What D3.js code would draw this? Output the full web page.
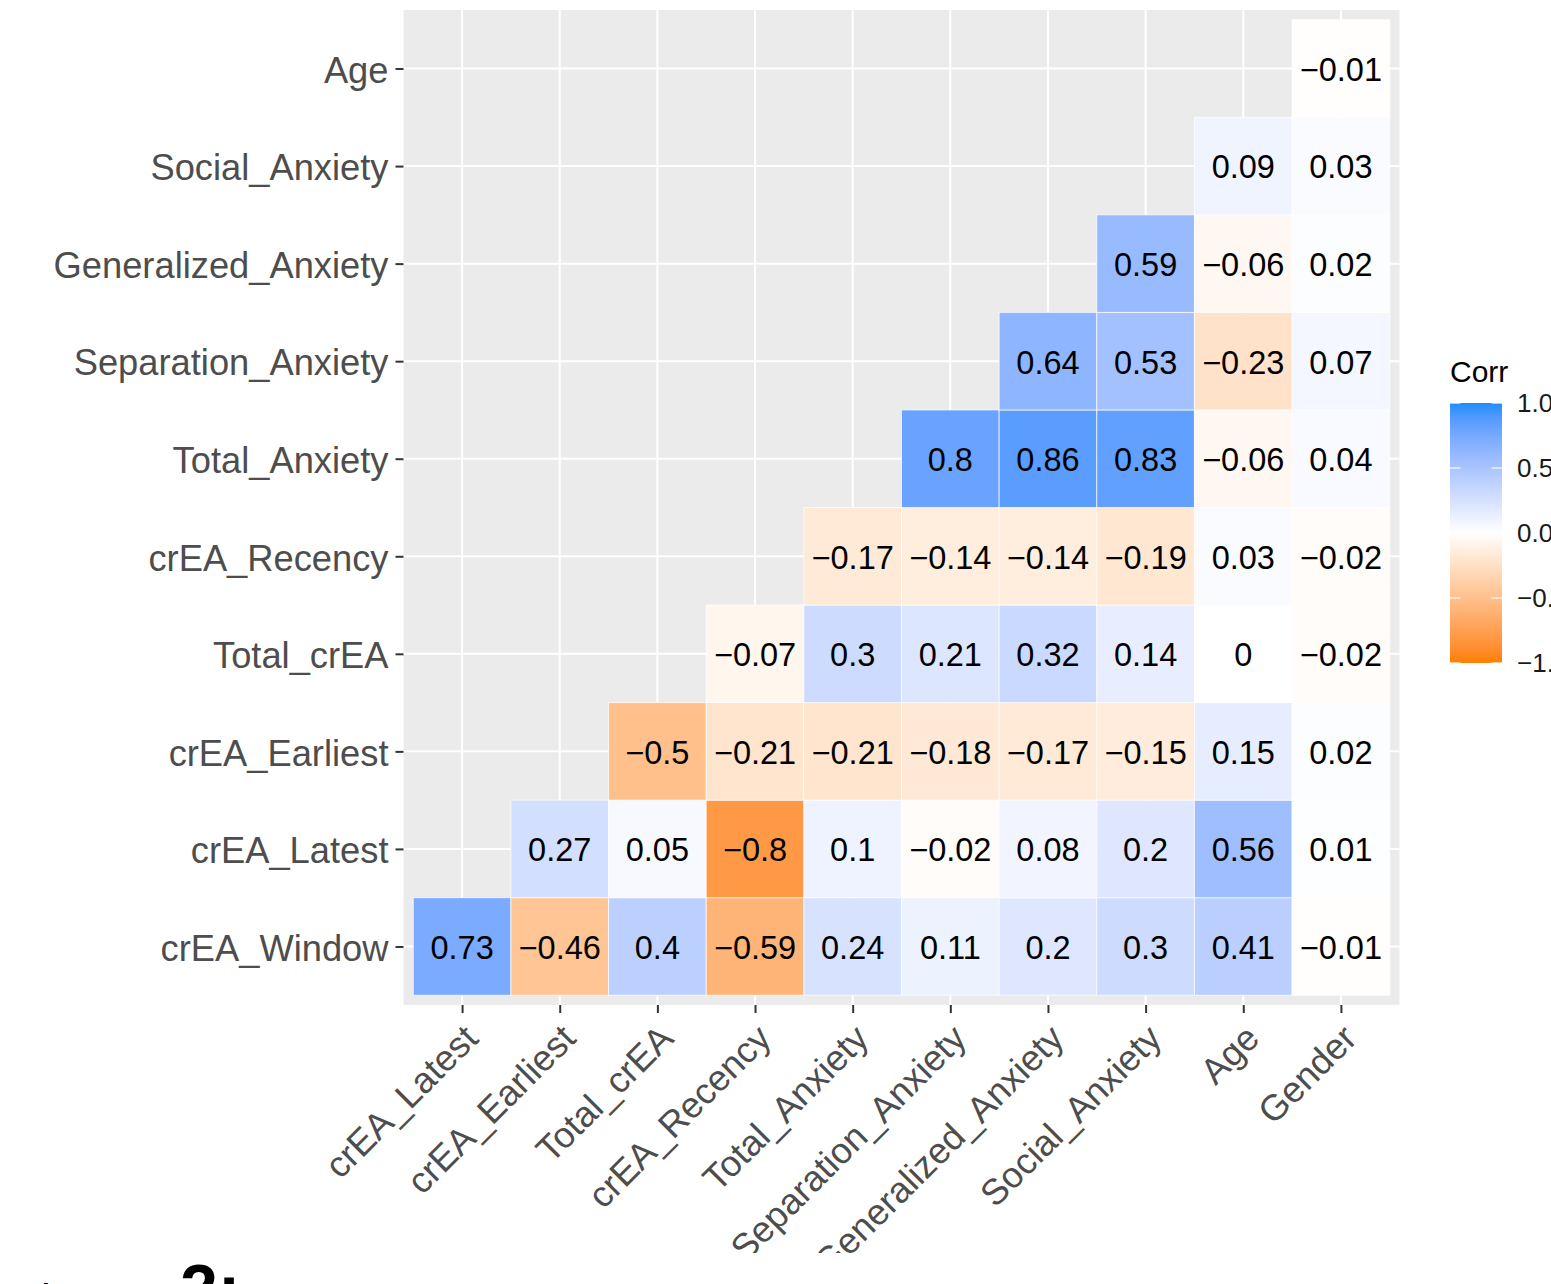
<!DOCTYPE html>
<html>
<head>
<meta charset="utf-8">
<script src="https://cdn.jsdelivr.net/npm/d3@7"></script>
<style>
  html, body { margin: 0; padding: 0; background: #fff; }
  svg { display: block; font-family: "Liberation Sans", Arial, Helvetica, sans-serif; }
</style>
</head>
<body>
<svg id="chart" width="1551" height="1284"></svg>
<script>
// Variables along the x axis (left to right) and y axis (bottom to top)
const xVars = ["crEA_Latest", "crEA_Earliest", "Total_crEA", "crEA_Recency", "Total_Anxiety",
  "Separation_Anxiety", "Generalized_Anxiety", "Social_Anxiety", "Age", "Gender"];
const yVars = ["crEA_Window", "crEA_Latest", "crEA_Earliest", "Total_crEA", "crEA_Recency",
  "Total_Anxiety", "Separation_Anxiety", "Generalized_Anxiety", "Social_Anxiety", "Age"];

// Lower-triangle correlations, one array per row (values start at the first x column)
const rowWindow    = [0.73, -0.46, 0.4, -0.59, 0.24, 0.11, 0.2, 0.3, 0.41, -0.01];
const rowLatest    = [0.27, 0.05, -0.8, 0.1, -0.02, 0.08, 0.2, 0.56, 0.01];
const rowEarliest  = [-0.5, -0.21, -0.21, -0.18, -0.17, -0.15, 0.15, 0.02];
const rowTotalCrEA = [-0.07, 0.3, 0.21, 0.32, 0.14, 0, -0.02];
const rowRecency   = [-0.17, -0.14, -0.14, -0.19, 0.03, -0.02];
const rowTotalAnx  = [0.8, 0.86, 0.83, -0.06, 0.04];
const rowSepAnx    = [0.64, 0.53, -0.23, 0.07];
const rowGenAnx    = [0.59, -0.06, 0.02];
const rowSocAnx    = [0.09, 0.03];
const rowAge       = [-0.01];

const legendTicks = [1, 0.5, 0, -0.5, -1];

const rows = [rowWindow, rowLatest, rowEarliest, rowTotalCrEA, rowRecency,
  rowTotalAnx, rowSepAnx, rowGenAnx, rowSocAnx, rowAge];

// Flatten into cells: row i starts at x column i
const cells = [];
rows.forEach((vals, i) => {
  vals.forEach((v, j) => {
    cells.push({ x: xVars[i + j], y: yVars[i], value: v });
  });
});

const svg = d3.select("#chart");
const defs = svg.append("defs");

const panel = { left: 403.5, right: 1399.5, top: 10, bottom: 1005 };

const x = d3.scalePoint().domain(xVars).range([panel.left, panel.right]).padding(0.6);
const y = d3.scalePoint().domain(yVars.slice().reverse()).range([panel.top, panel.bottom]).padding(0.6);
const cw = x.step(), ch = y.step();

const color = d3.scaleLinear()
  .domain([-1, 0, 1])
  .range(["#FF7F00", "#FFFFFF", "#1E8EFF"])
  .interpolate(d3.interpolateLab);

// Panel background and major grid lines
svg.append("rect")
  .attr("x", panel.left).attr("y", panel.top)
  .attr("width", panel.right - panel.left).attr("height", panel.bottom - panel.top)
  .attr("fill", "#EBEBEB");

const grid = svg.append("g").attr("stroke", "#fff").attr("stroke-width", 2);
grid.selectAll("line.vx").data(xVars).join("line")
  .attr("x1", d => x(d)).attr("x2", d => x(d))
  .attr("y1", panel.top).attr("y2", panel.bottom);
grid.selectAll("line.hy").data(yVars).join("line")
  .attr("y1", d => y(d)).attr("y2", d => y(d))
  .attr("x1", panel.left).attr("x2", panel.right);

// Tiles
svg.append("g").selectAll("rect").data(cells).join("rect")
  .attr("x", d => x(d.x) - cw / 2)
  .attr("y", d => y(d.y) - ch / 2)
  .attr("width", cw).attr("height", ch)
  .attr("fill", d => color(d.value))
  .attr("stroke", "rgba(255,255,255,0.7)")
  .attr("stroke-width", 1);

// Value labels
const fmt = v => (v < 0 ? "\u2212" : "") + String(Math.abs(v));
svg.append("g").selectAll("text").data(cells).join("text")
  .attr("x", d => x(d.x))
  .attr("y", d => y(d.y))
  .attr("dy", "0.38em")
  .attr("text-anchor", "middle")
  .attr("font-size", 32.5)
  .attr("fill", "#000")
  .text(d => fmt(d.value));

// Axes
const yAxis = svg.append("g")
  .attr("transform", `translate(${panel.left},0)`)
  .call(d3.axisLeft(y).tickSize(8).tickPadding(7));
yAxis.select(".domain").remove();
yAxis.selectAll(".tick line").attr("stroke", "#333").attr("stroke-width", 2);
yAxis.selectAll(".tick text")
  .attr("font-size", 36.3).attr("fill", "#4D4D4D")
  .attr("font-family", "Liberation Sans, Arial, sans-serif")
  .attr("dy", "0.38em");

// The plotting area ends just below the rotated x labels
defs.append("clipPath").attr("id", "plotClip")
  .append("rect").attr("x", 0).attr("y", 0).attr("width", 1551).attr("height", 1253);

const xAxis = svg.append("g")
  .attr("clip-path", "url(#plotClip)")
  .append("g")
  .attr("transform", `translate(0,${panel.bottom})`)
  .call(d3.axisBottom(x).tickSize(8).tickPadding(7));
xAxis.select(".domain").remove();
xAxis.selectAll(".tick line").attr("stroke", "#333").attr("stroke-width", 2);
xAxis.selectAll(".tick text")
  .attr("font-size", 36.3).attr("fill", "#4D4D4D")
  .attr("font-family", "Liberation Sans, Arial, sans-serif")
  .attr("text-anchor", "end")
  .attr("x", 0).attr("y", 0)
  .attr("dy", "0.72em")
  .attr("transform", "translate(-1,17) rotate(-45)");

// Legend
const lg = { x: 1450, top: 403, bottom: 663, w: 52 };
const ly = d3.scaleLinear().domain([1, -1]).range([lg.top, lg.bottom]);

svg.append("text")
  .attr("x", lg.x).attr("y", 382)
  .attr("font-size", 30).attr("fill", "#000")
  .text("Corr");

const grad = defs.append("linearGradient").attr("id", "corrGrad")
  .attr("x1", 0).attr("y1", 0).attr("x2", 0).attr("y2", 1);
d3.range(0, 21).forEach(i => {
  const v = 1 - i / 10;
  grad.append("stop").attr("offset", (i / 20)).attr("stop-color", color(v));
});
svg.append("rect")
  .attr("x", lg.x).attr("y", lg.top)
  .attr("width", lg.w).attr("height", lg.bottom - lg.top)
  .attr("fill", "url(#corrGrad)");

const lt = svg.append("g").attr("stroke", "#fff").attr("stroke-width", 1.5).attr("opacity", 0.8);
legendTicks.forEach(v => {
  lt.append("line").attr("x1", lg.x).attr("x2", lg.x + lg.w / 5)
    .attr("y1", ly(v)).attr("y2", ly(v));
  lt.append("line").attr("x1", lg.x + lg.w * 4 / 5).attr("x2", lg.x + lg.w)
    .attr("y1", ly(v)).attr("y2", ly(v));
});
svg.append("g").selectAll("text").data(legendTicks).join("text")
  .attr("x", 1517).attr("y", d => ly(d))
  .attr("dy", "0.36em")
  .attr("font-size", 26).attr("fill", "#1a1a1a")
  .text(d => (d < 0 ? "\u2212" : "") + Math.abs(d).toFixed(1));

// Caption heading, running off the bottom edge
svg.append("text").attr("x", 14).attr("y", 1315).attr("fill", "#000")
  .attr("font-size", 44).text("Figure");
svg.append("text").attr("x", 180).attr("y", 1312).attr("fill", "#000")
  .attr("font-size", 68).attr("font-weight", "bold").text("2:");
</script>
</body>
</html>
